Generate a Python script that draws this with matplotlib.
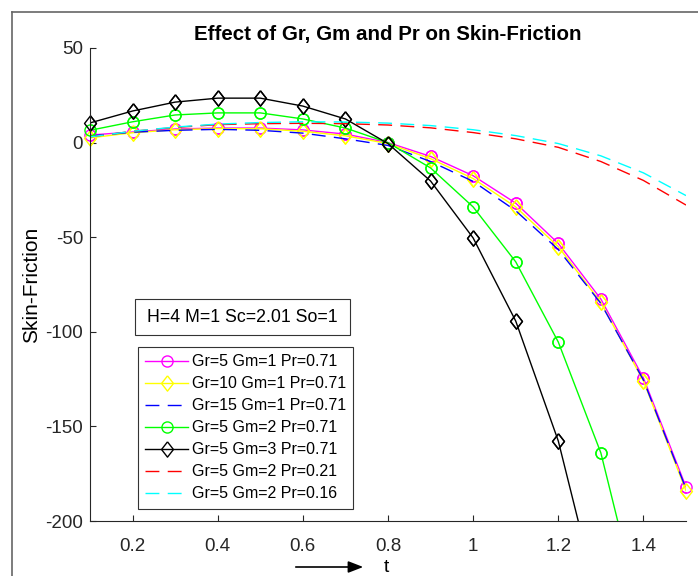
import numpy as np
import matplotlib.pyplot as plt
from matplotlib.patches import Rectangle
from matplotlib.lines import Line2D

plt.rcParams['font.family'] = ['Liberation Sans', 'DejaVu Sans']
plt.rcParams['axes.unicode_minus'] = False

t = [0.1, 0.2, 0.3, 0.4, 0.5, 0.6, 0.7, 0.8, 0.9, 1.0, 1.1, 1.2, 1.3, 1.4, 1.5]

# Gr=5 Gm=1 Pr=0.71
sf_mag = [4.0, 5.6, 7.2, 7.7, 7.7, 6.7, 4.5, 0.0, -7.3, -17.5, -32.0, -53.3, -82.7, -124.4, -182.0]
# Gr=10 Gm=1 Pr=0.71
sf_yel = [2.5, 5.2, 6.8, 7.4, 7.3, 6.0, 3.6, -0.5, -8.5, -19.0, -34.0, -55.0, -84.5, -126.0, -184.0]
# Gr=15 Gm=1 Pr=0.71
sf_blu = [3.5, 5.5, 6.5, 7.0, 6.5, 5.0, 2.0, -1.5, -10.0, -20.5, -36.0, -56.5, -85.0, -125.5, -183.0]
# Gr=5 Gm=2 Pr=0.71
sf_grn = [6.5, 11.0, 14.6, 15.7, 15.7, 12.5, 7.7, 0.0, -13.4, -34.0, -63.0, -105.4, -164.0, -255.0, -370.0]
# Gr=5 Gm=3 Pr=0.71
sf_blk = [10.4, 16.7, 21.4, 23.5, 23.5, 19.3, 12.5, -0.5, -20.3, -50.4, -94.3, -157.7, -248.0, -370.0, -530.0]
# Gr=5 Gm=2 Pr=0.21
sf_red = [3.0, 6.0, 8.0, 9.5, 10.0, 10.2, 10.0, 9.3, 7.8, 5.3, 2.0, -2.5, -10.0, -20.0, -33.0]
# Gr=5 Gm=2 Pr=0.16
sf_cyn = [3.0, 6.0, 8.2, 9.8, 10.6, 11.0, 10.9, 10.3, 9.0, 6.8, 3.7, -0.5, -7.0, -16.0, -28.0]

labels = ['Gr=5 Gm=1 Pr=0.71', 'Gr=10 Gm=1 Pr=0.71', 'Gr=15 Gm=1 Pr=0.71',
          'Gr=5 Gm=2 Pr=0.71', 'Gr=5 Gm=3 Pr=0.71', 'Gr=5 Gm=2 Pr=0.21',
          'Gr=5 Gm=2 Pr=0.16']

diamond = [(0, 1), (0.78, 0), (0, -1), (-0.78, 0), (0, 1)]

series = [
    (sf_mag, (1, 0, 1), 'o', '-', 8),
    (sf_yel, (1, 1, 0), diamond, '-', 11),
    (sf_blu, (0, 0, 1), None, '--', 0),
    (sf_grn, (0, 1, 0), 'o', '-', 8),
    (sf_blk, (0, 0, 0), diamond, '-', 11),
    (sf_red, (1, 0, 0), None, '--', 0),
    (sf_cyn, (0, 1, 1), None, '--', 0),
]

fig = plt.figure(figsize=(6.98, 5.76), dpi=100)
ax = fig.add_axes([90/698, 1-521/576, 596/698, 473/576])

tt = np.array(t)
for (vals, col, mk, ls, ms), lab in zip(series, labels):
    y = np.array(vals)
    kw = dict(color=col, lw=1.0, label=lab)
    if ls == '--':
        kw['dashes'] = (10, 6)
    else:
        kw['ls'] = '-'
    if mk is not None:
        kw.update(marker=mk, ms=ms, mfc='none', mec=col, mew=1.0)
    ax.plot(tt, y, **kw)
    if mk is not None:
        m = (y >= -200) & (y <= 50)
        ax.plot(tt[m], y[m], ls='none', marker=mk, ms=ms, mfc='none',
                mec=col, mew=1.0, clip_on=False)

ax.set_xlim(0.1, 1.5)
ax.set_ylim(-200, 50)
ax.set_xticks([0.2, 0.4, 0.6, 0.8, 1.0, 1.2, 1.4])
ax.set_xticklabels(['0.2', '0.4', '0.6', '0.8', '1', '1.2', '1.4'])
ax.set_yticks([-200, -150, -100, -50, 0, 50])
ax.tick_params(direction='in', length=4, width=0.8, labelsize=13.5,
               colors='#262626')
ax.tick_params(axis='x', pad=12)
ax.tick_params(axis='y', pad=5)
for s in ['top', 'right']:
    ax.spines[s].set_visible(False)
for s in ['left', 'bottom']:
    ax.spines[s].set_color('#262626')
    ax.spines[s].set_linewidth(0.8)

ax.set_ylabel('Skin-Friction', fontsize=15, labelpad=3)
ax.text(0.5, 1 + 13/473, 'Effect of Gr, Gm and Pr on Skin-Friction',
        transform=ax.transAxes, ha='center', va='center',
        fontsize=14.8, fontweight='bold')

leg = ax.legend(loc='upper left', bbox_to_anchor=((138-90)/596, (521-347)/473),
                borderaxespad=0, fancybox=False, framealpha=1, fontsize=11.5,
                handlelength=2.7, labelspacing=0.44, borderpad=0.45,
                handletextpad=0.2)
leg.get_frame().set_edgecolor('#333333')
leg.get_frame().set_linewidth(0.8)

# parameter box
fig.patches.append(Rectangle((135/698, 1-335/576), 215/698, 36/576,
                             transform=fig.transFigure, fill=False,
                             ec='#333333', lw=0.8))
fig.text(242.5/698, 1-317/576, 'H=4 M=1 Sc=2.01 So=1', ha='center',
         va='center', fontsize=12.8)

# x label with arrow
fig.text(386/698, 1-567/576, 't', ha='center', va='center', fontsize=14)
ax.annotate('', xy=(366/698, 1-567/576), xytext=(293/698, 1-567/576),
            xycoords='figure fraction', textcoords='figure fraction',
            arrowprops=dict(arrowstyle='-|>,head_length=0.9,head_width=0.35',
                            color='black', lw=1.2))

# window frame
fig.add_artist(Line2D([12/698, 12/698], [0, 1-12/576], color='#666666',
                      lw=1.2, transform=fig.transFigure))
fig.add_artist(Line2D([12/698, 1], [1-12/576, 1-12/576], color='#666666',
                      lw=1.2, transform=fig.transFigure))

fig.savefig('out.png', dpi=100)
